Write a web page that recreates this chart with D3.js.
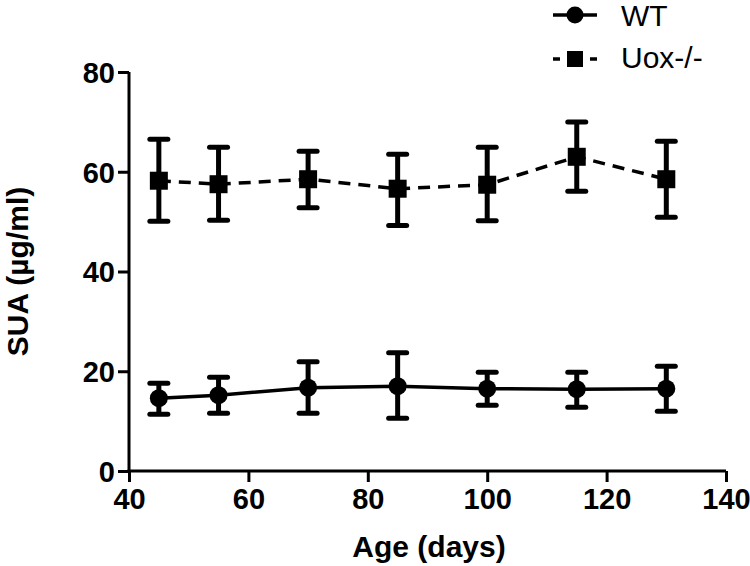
<!DOCTYPE html>
<html><head><meta charset="utf-8">
<script src="https://cdn.jsdelivr.net/npm/d3@7"></script>
<style>body{margin:0;background:#fff}svg{font-family:"Liberation Sans",Arial,sans-serif}</style>
</head><body><svg id="c" width="750" height="566"></svg>
<script>
const ages = [45, 55, 70, 85, 100, 115, 130];
const wtMean = [14.6, 15.2, 16.7, 17.0, 16.5, 16.4, 16.5];
const wtLow  = [11.4, 11.6, 11.6, 10.6, 13.2, 12.8, 12.0];
const wtHigh = [17.6, 18.8, 21.9, 23.7, 19.8, 19.8, 21.0];
const uoxMean = [58.2, 57.5, 58.5, 56.6, 57.4, 63.0, 58.5];
const uoxLow  = [50.1, 50.3, 52.8, 49.2, 50.2, 56.1, 50.9];
const uoxHigh = [66.5, 64.9, 64.1, 63.5, 64.9, 70.0, 66.1];
const xTicks = [40, 60, 80, 100, 120, 140];
const yTicks = [0, 20, 40, 60, 80];

const svg = d3.select("#c");
const x = d3.scaleLinear().domain([40, 140]).range([129, 726]);
const y = d3.scaleLinear().domain([0, 80]).range([471, 72]);

const xAxis = svg.append("g").attr("transform", "translate(0,471)")
  .call(d3.axisBottom(x).tickValues(xTicks).tickSize(11).tickPadding(6).tickSizeOuter(0));
const yAxis = svg.append("g").attr("transform", "translate(129,0)")
  .call(d3.axisLeft(y).tickValues(yTicks).tickSize(11).tickPadding(3).tickSizeOuter(0));
[xAxis, yAxis].forEach(a => {
  a.select(".domain").attr("stroke", "#000").attr("stroke-width", 3);
  a.selectAll(".tick line").attr("stroke", "#000").attr("stroke-width", 3);
  a.selectAll(".tick text").attr("fill", "#000").style("font-size", "29px").style("font-weight", "bold")
   .style("font-family", '"Liberation Sans",Arial,sans-serif');
});
yAxis.selectAll(".tick text").attr("dy", "0.36em");
xAxis.selectAll(".tick text").attr("dy", "0.72em");
xAxis.select(".domain").attr("d", `M${127.5},0H${x(140)}`);
yAxis.select(".domain").attr("d", `M0,${y(0)+1.5}V${y(80)}`);

svg.append("text").attr("x", 429).attr("y", 557).attr("text-anchor", "middle")
  .style("font-size", "30px").style("font-weight", "bold").text("Age (days)");
svg.append("text").attr("transform", `translate(28,${y(40)}) rotate(-90)`).attr("text-anchor", "middle")
  .style("font-size", "30px").style("font-weight", "bold").text("SUA (µg/ml)");

function series(mean, lo, hi, dashed, marker) {
  const g = svg.append("g");
  const pts = ages.map((a, i) => ({a, m: mean[i], l: lo[i], h: hi[i]}));
  g.append("path").datum(pts)
    .attr("d", d3.line().x(d => x(d.a)).y(d => y(d.m)))
    .attr("fill", "none").attr("stroke", "#000").attr("stroke-width", 3.5)
    .attr("stroke-dasharray", dashed ? "12,8" : null);
  const eb = g.selectAll(".eb").data(pts).enter().append("g");
  eb.append("line").attr("x1", d => x(d.a)).attr("x2", d => x(d.a))
    .attr("y1", d => y(d.l)).attr("y2", d => y(d.h)).attr("stroke", "#000").attr("stroke-width", 5);
  ["l", "h"].forEach(k => {
    eb.append("line").attr("x1", d => x(d.a) - 9).attr("x2", d => x(d.a) + 9)
      .attr("y1", d => y(d[k])).attr("y2", d => y(d[k]))
      .attr("stroke", "#000").attr("stroke-width", 5).attr("stroke-linecap", "round");
  });
  if (marker === "circle") {
    eb.append("circle").attr("cx", d => x(d.a)).attr("cy", d => y(d.m)).attr("r", 9).attr("fill", "#000");
  } else {
    eb.append("rect").attr("x", d => x(d.a) - 9).attr("y", d => y(d.m) - 9)
      .attr("width", 18).attr("height", 18).attr("fill", "#000");
  }
}
series(wtMean, wtLow, wtHigh, false, "circle");
series(uoxMean, uoxLow, uoxHigh, true, "square");

// legend
const lg = svg.append("g");
lg.append("line").attr("x1", 553).attr("x2", 597).attr("y1", 15).attr("y2", 15).attr("stroke", "#000").attr("stroke-width", 3.5);
lg.append("circle").attr("cx", 575).attr("cy", 15).attr("r", 8.5).attr("fill", "#000");
lg.append("text").attr("x", 621).attr("y", 26).style("font-size", "30px").text("WT");
lg.append("line").attr("x1", 553).attr("x2", 560).attr("y1", 59).attr("y2", 59).attr("stroke", "#000").attr("stroke-width", 3.5);
lg.append("line").attr("x1", 590).attr("x2", 597).attr("y1", 59).attr("y2", 59).attr("stroke", "#000").attr("stroke-width", 3.5);
lg.append("rect").attr("x", 567).attr("y", 51).attr("width", 16).attr("height", 16).attr("fill", "#000");
lg.append("text").attr("x", 621).attr("y", 68).style("font-size", "30px").text("Uox-/-");
</script></body></html>
